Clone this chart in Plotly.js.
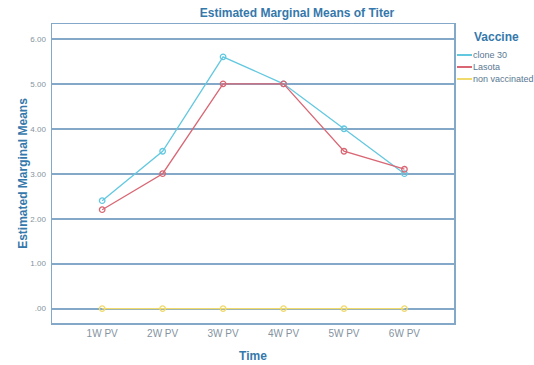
<!DOCTYPE html>
<html>
<head>
<meta charset="utf-8">
<script src="https://cdn.plot.ly/plotly-3.0.1.min.js"></script>
<style>html,body{margin:0;padding:0;background:#fff;}#chart{width:534px;height:365px;}</style>
</head>
<body>
<div id="chart"></div>
<script>
// Data
const timeCategories = ["1W PV", "2W PV", "3W PV", "4W PV", "5W PV", "6W PV"];
const seriesNames = ["clone 30", "Lasota", "non vaccinated"];
const clone30 = [2.4, 3.5, 5.6, 5.0, 4.0, 3.0];
const lasota = [2.2, 3.0, 5.0, 5.0, 3.5, 3.1];
const nonVaccinated = [0, 0, 0, 0, 0, 0];
const yTickValues = [0, 1, 2, 3, 4, 5, 6];
const yTickLabels = [".00", "1.00", "2.00", "3.00", "4.00", "5.00", "6.00"];

const seriesValues = [clone30, lasota, nonVaccinated];
const colors = ["#62c8e0", "#d96673", "#f0da6e"];
const xIdx = timeCategories.map((_, i) => i);

const traces = seriesValues.map((vals, k) => ({
  type: "scatter",
  mode: "lines+markers",
  x: xIdx,
  y: vals,
  name: seriesNames[k],
  line: {color: colors[k], width: 1.3},
  marker: {symbol: "circle-open", size: 5.5, color: colors[k], line: {width: 1.3}},
  showlegend: false,
  cliponaxis: false
}));

const titleColor = "#3578ab";
const gridColor = "#84a9c8";
const fontFam = "Liberation Sans, Arial, sans-serif";

// custom legend built from series names
const legendShapes = [];
const legendAnns = [{
  xref: "paper", yref: "paper", x: (472 - 52) / 402, y: (323 - 37) / 299,
  xanchor: "left", yanchor: "middle", showarrow: false,
  text: "<b>Vaccine</b>", font: {family: fontFam, size: 12, color: titleColor}
}];
seriesNames.forEach((nm, k) => {
  const yp = (323 - (55 + 12 * k)) / 299;
  legendShapes.push({type: "line", xref: "paper", yref: "paper",
    x0: (457 - 52) / 402, x1: (472 - 52) / 402, y0: yp, y1: yp,
    line: {color: colors[k], width: 2}});
  legendAnns.push({xref: "paper", yref: "paper", x: (471 - 52) / 402, y: yp,
    xanchor: "left", yanchor: "middle", showarrow: false, text: nm,
    font: {family: fontFam, size: 9, color: "#5a7892"}});
});

const layout = {
  width: 534, height: 365,
  margin: {l: 52, r: 80, t: 24, b: 42},
  paper_bgcolor: "#ffffff", plot_bgcolor: "#ffffff",
  font: {family: fontFam},
  showlegend: false,
  title: {text: "<b>Estimated Marginal Means of Titer</b>", x: 297 / 534, xref: "container", xanchor: "center",
    y: 1 - 13 / 365, yref: "container", yanchor: "middle",
    font: {family: fontFam, size: 12, color: titleColor}},
  xaxis: {
    range: [-0.83, 5.82],
    tickvals: xIdx, ticktext: timeCategories,
    showgrid: false, zeroline: false,
    showline: true, mirror: true, linecolor: gridColor, linewidth: 1.5,
    ticks: "", tickfont: {family: fontFam, size: 10, color: "#8593a0"},
    title: {text: "<b>Time</b>", font: {family: fontFam, size: 12, color: titleColor}, standoff: 14}
  },
  yaxis: {
    range: [-0.32, 6.33],
    tickvals: yTickValues, ticktext: yTickLabels,
    showgrid: true, gridcolor: gridColor, gridwidth: 2,
    zeroline: false,
    showline: true, mirror: true, linecolor: gridColor, linewidth: 1.5,
    ticks: "", ticklabelstandoff: 3,
    tickfont: {family: fontFam, size: 8, color: "#8593a0"},
    title: {text: "<b>Estimated Marginal Means</b>", font: {family: fontFam, size: 12, color: titleColor}, standoff: 0}
  },
  shapes: legendShapes,
  annotations: legendAnns
};

Plotly.newPlot("chart", traces, layout, {displayModeBar: false, staticPlot: true});
</script>
</body>
</html>
